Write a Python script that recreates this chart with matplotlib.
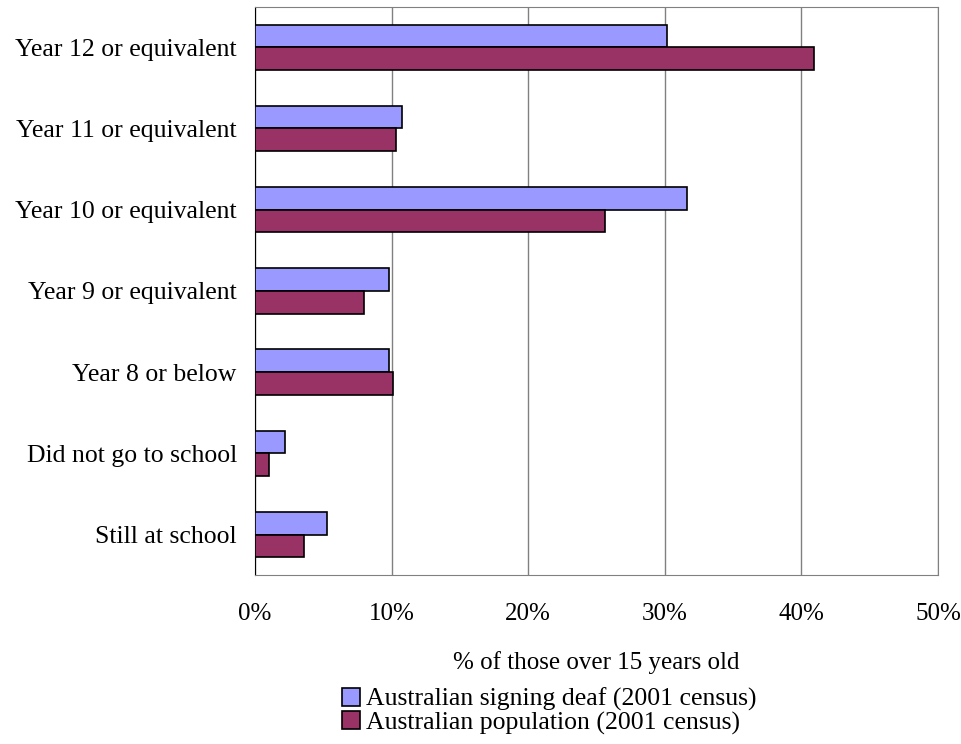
import matplotlib
matplotlib.use('Agg')
import matplotlib.pyplot as plt
import numpy as np

categories = ['Year 12 or equivalent', 'Year 11 or equivalent', 'Year 10 or equivalent',
              'Year 9 or equivalent', 'Year 8 or below', 'Did not go to school',
              'Still at school']
deaf = [30.2, 10.8, 31.6, 9.8, 9.85, 2.2, 5.3]
population = [40.9, 10.3, 25.6, 8.0, 10.1, 1.0, 3.6]
x_ticks = [0, 10, 20, 30, 40, 50]
x_tick_labels = ['0%', '10%', '20%', '30%', '40%', '50%']

plt.rcParams['font.family'] = ['Liberation Serif', 'DejaVu Serif']
fs = 18.5

fig = plt.figure(figsize=(9.62, 7.44), dpi=100)
ax = fig.add_axes([0.265, 0.227, 0.71, 0.764])

y = np.arange(len(categories))
h = 0.28
ax.barh(y - h / 2, deaf, height=h, color='#9999FF', edgecolor='black', linewidth=1.2,
        label='Australian signing deaf (2001 census)', zorder=3)
ax.barh(y + h / 2, population, height=h, color='#993366', edgecolor='black', linewidth=1.2,
        label='Australian population (2001 census)', zorder=3)

ax.set_xlim(0, 50)
ax.set_ylim(len(categories) - 0.5, -0.5)
ax.set_xticks(x_ticks)
ax.set_xticklabels(x_tick_labels, fontsize=18)
ax.set_yticks(y)
ax.set_yticklabels(categories, fontsize=fs)
ax.tick_params(axis='both', length=0)
ax.tick_params(axis='x', pad=20)
ax.tick_params(axis='y', pad=13)
ax.xaxis.grid(True, color='#808080', linewidth=1)
ax.set_axisbelow(True)
for side in ['top', 'right', 'bottom']:
    ax.spines[side].set_color('#808080')
ax.spines['left'].set_color('black')
ax.set_xlabel('% of those over 15 years old', fontsize=18, labelpad=19)

fig.legend(loc='center', bbox_to_anchor=(0.571, 0.044), ncol=1, frameon=False,
           fontsize=fs, handlelength=0.7, handleheight=0.7, handletextpad=0.2,
           labelspacing=0.0, borderpad=0)

fig.savefig('out.png', dpi=100)
